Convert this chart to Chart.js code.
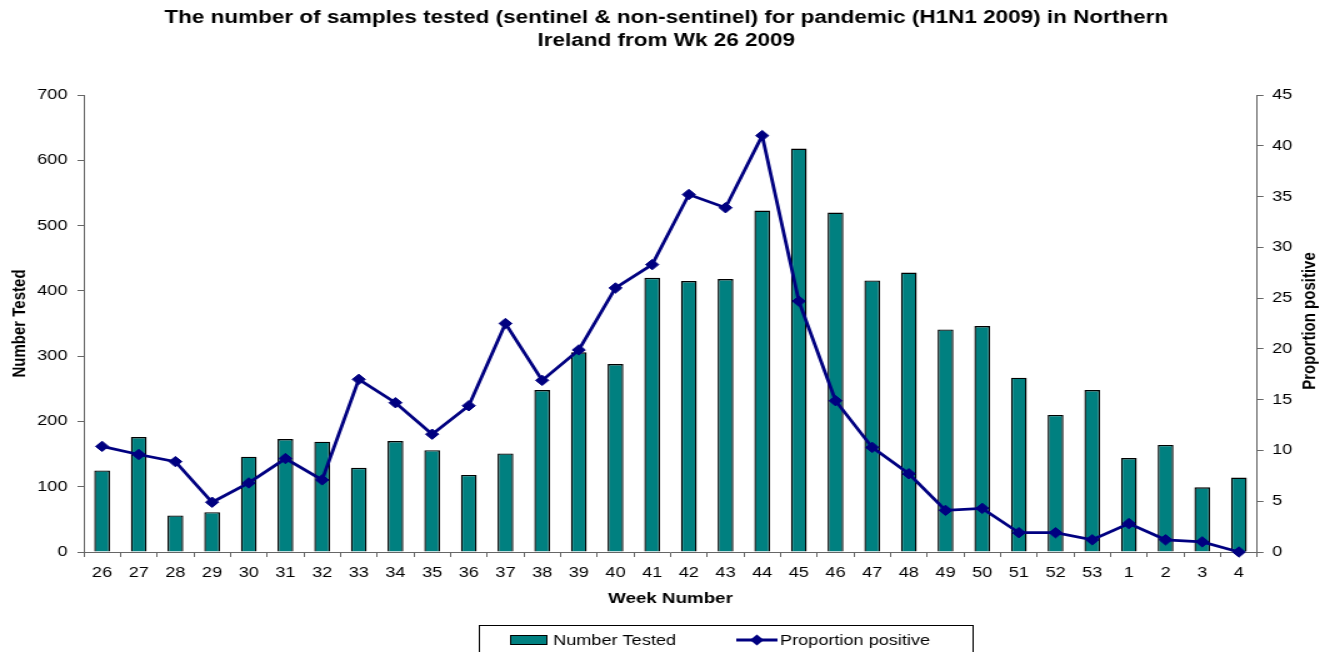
<!DOCTYPE html>
<html>
<head>
<meta charset="utf-8">
<script src="https://cdn.jsdelivr.net/npm/chart.js@4.4.1/dist/chart.umd.min.js"></script>
<style>
  html, body { margin: 0; padding: 0; background: #fff; overflow: hidden; }
  #wrap { width: 1060px; height: 652px; transform: scaleX(1.25); transform-origin: 0 0; }
</style>
</head>
<body>
<div id="wrap"><canvas id="c" width="1060" height="652"></canvas></div>
<script>
const weeks = ['26','27','28','29','30','31','32','33','34','35','36','37','38','39','40','41','42','43','44','45','46','47','48','49','50','51','52','53','1','2','3','4'];
const numberTested = [125,176,56,61,146,173,169,129,170,156,118,151,248,306,288,420,415,418,523,618,520,416,428,341,346,267,210,248,144,164,99,114];
const proportionPositive = [10.4,9.6,8.9,4.9,6.8,9.2,7.1,17.0,14.7,11.6,14.4,22.5,16.9,19.9,26.0,28.3,35.2,33.9,41.0,24.7,14.9,10.3,7.7,4.1,4.3,1.9,1.9,1.2,2.8,1.2,1.0,0];
const leftTicks = [0,100,200,300,400,500,600,700];
const rightTicks = [0,5,10,15,20,25,30,35,40,45];
const titleLines = ['The number of samples tested (sentinel & non-sentinel) for pandemic (H1N1 2009) in Northern', 'Ireland from Wk 26 2009'];
const xTitle = 'Week Number';
const yTitle = 'Number Tested';
const y1Title = 'Proportion positive';
const seriesNames = ['Number Tested', 'Proportion positive'];

const FONT = '"Liberation Sans", Arial, sans-serif';
const TEAL = '#008080';
const NAVY = '#000080';

const decor = {
  id: 'decor',
  afterDraw(chart) {
    const ctx = chart.ctx;
    const ca = chart.chartArea;
    ctx.save();
    ctx.fillStyle = '#000';
    ctx.textAlign = 'center';
    ctx.textBaseline = 'middle';
    ctx.font = 'bold 18px ' + FONT;
    ctx.fillText(titleLines[0], 533, 18);
    ctx.fillText(titleLines[1], 533, 41);

    ctx.font = 'bold 15px ' + FONT;
    ctx.fillText(xTitle, (ca.left + ca.right) / 2, 599);

    ctx.save();
    ctx.translate(15.5, (ca.top + ca.bottom) / 2);
    ctx.rotate(-Math.PI / 2);
    ctx.fillText(yTitle, 0, 0);
    ctx.restore();

    ctx.save();
    ctx.translate(1048, 321);
    ctx.rotate(-Math.PI / 2);
    ctx.fillText(y1Title, 0, 0);
    ctx.restore();

    // legend
    ctx.strokeStyle = '#000';
    ctx.lineWidth = 1;
    ctx.strokeRect(383.5, 625.5, 395, 40);
    ctx.fillStyle = TEAL;
    ctx.fillRect(408, 635, 29.5, 9);
    ctx.strokeRect(408.5, 635.5, 29, 9);
    ctx.fillStyle = '#000';
    ctx.textAlign = 'left';
    ctx.font = '14.5px ' + FONT;
    ctx.fillText(seriesNames[0], 442.5, 640.5);
    ctx.strokeStyle = NAVY;
    ctx.lineWidth = 3;
    ctx.beginPath();
    ctx.moveTo(589, 640);
    ctx.lineTo(622, 640);
    ctx.stroke();
    ctx.fillStyle = NAVY;
    ctx.beginPath();
    ctx.moveTo(605.5 - 5.5, 640);
    ctx.lineTo(605.5, 640 - 5.5);
    ctx.lineTo(605.5 + 5.5, 640);
    ctx.lineTo(605.5, 640 + 5.5);
    ctx.closePath();
    ctx.fill();
    ctx.fillStyle = '#000';
    ctx.fillText(seriesNames[1], 624, 640.5);
    ctx.restore();
  }
};

new Chart(document.getElementById('c'), {
  type: 'bar',
  data: {
    labels: weeks,
    datasets: [
      {
        type: 'line',
        label: seriesNames[1],
        data: proportionPositive,
        yAxisID: 'y1',
        borderColor: NAVY,
        backgroundColor: NAVY,
        borderWidth: 2.8,
        pointStyle: 'rectRot',
        pointRadius: 5.2,
        pointBorderWidth: 1,
        pointBackgroundColor: NAVY,
        pointBorderColor: NAVY,
        tension: 0,
        clip: false,
        order: 0
      },
      {
        type: 'bar',
        label: seriesNames[0],
        data: numberTested,
        yAxisID: 'y',
        backgroundColor: TEAL,
        borderColor: '#000',
        borderWidth: 1.4,
        barPercentage: 0.43,
        categoryPercentage: 1,
        order: 1
      }
    ]
  },
  options: {
    responsive: false,
    animation: false,
    devicePixelRatio: 1,
    layout: { padding: { top: 95, bottom: 0, left: 0, right: 0 } },
    plugins: { legend: { display: false }, title: { display: false }, tooltip: { enabled: false } },
    scales: {
      x: {
        afterFit(s) { s.height = 100; },
        grid: { display: true, drawOnChartArea: false, drawTicks: true, tickLength: 5, color: '#666', offset: true },
        border: { display: true, color: '#666', width: 1 },
        ticks: { color: '#000', font: { family: FONT, size: 14.5 }, padding: 7, maxRotation: 0, autoSkip: false }
      },
      y: {
        position: 'left',
        min: 0, max: 700,
        afterFit(s) { s.width = 67; },
        afterBuildTicks(s) { s.ticks = leftTicks.map(v => ({ value: v })); },
        grid: { display: true, drawOnChartArea: false, drawTicks: true, tickLength: 5, color: '#666' },
        border: { display: true, color: '#666', width: 1 },
        ticks: { color: '#000', font: { family: FONT, size: 14.5 }, padding: 8 }
      },
      y1: {
        position: 'right',
        min: 0, max: 45,
        afterFit(s) { s.width = 54.2; },
        afterBuildTicks(s) { s.ticks = rightTicks.map(v => ({ value: v })); },
        grid: { display: true, drawOnChartArea: false, drawTicks: true, tickLength: 5, color: '#666' },
        border: { display: true, color: '#666', width: 1 },
        ticks: { color: '#000', font: { family: FONT, size: 14.5 }, padding: 7 }
      }
    }
  },
  plugins: [decor]
});
</script>
</body>
</html>
